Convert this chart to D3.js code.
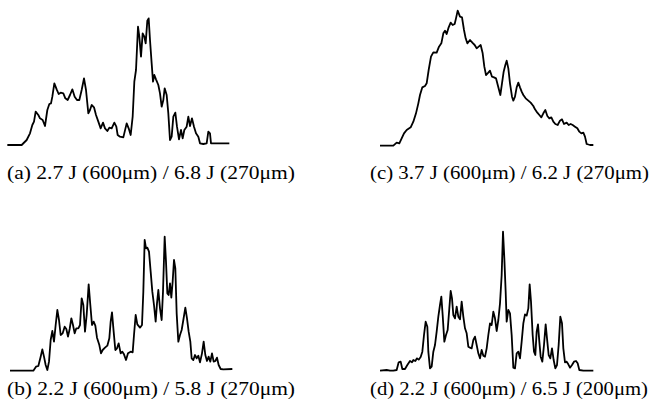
<!DOCTYPE html>
<html>
<head>
<meta charset="utf-8">
<script src="https://cdn.jsdelivr.net/npm/d3@7/dist/d3.min.js"></script>
<style>
  html, body { margin: 0; padding: 0; background: #fff; }
  svg { display: block; }
  .caption { font-family: "Liberation Serif", "Times New Roman", serif; fill: #000; }
</style>
</head>
<body>
<svg id="chart" width="657" height="404"></svg>
<script>
// Spectral channel positions and relative intensities for each shot.
const channelA = [22,65,80,90,97,102,107,115,120,128,135,142,148,153,157,163,170,176,182,190,196,203,210,217,224,231,238,245,252,258,265,270,275,282,288,295,302,309,315,322,328,335,343,349,353,360,370,380,386,392,398,403,408,414,418,423,428,433,437,442,446,450,455,459,463,468,475,480,485,490,494,500,505,510,515,520,526,531,537,543,548,553,560,565,570,576,582,588,595,600,610,620,625,630,633,650,688];
const intensityA = [2,2,17,37,62,72,102,92,82,77,59,107,125,127,147,187,169,155,159,157,142,137,152,169,147,137,137,167,202,167,97,107,122,115,92,72,52,69,52,44,54,52,69,57,32,27,25,67,52,32,87,192,227,357,327,267,337,327,307,375,382,317,247,192,212,199,182,157,117,137,172,152,97,17,27,87,99,57,19,47,22,47,57,87,59,82,57,37,27,7,5,7,42,37,7,7,7];

const channelB = [30,100,108,115,122,127,132,137,142,147,152,157,162,167,172,177,182,188,194,199,204,209,214,219,224,229,235,240,245,250,255,260,266,271,276,281,286,291,298,303,308,315,322,328,332,336,341,346,351,356,362,367,372,378,384,392,398,402,407,412,420,426,430,434,438,442,447,452,457,462,467,471,475,480,485,489,494,498,502,506,510,514,518,522,526,530,535,540,545,550,556,561,566,571,575,580,585,590,595,600,606,611,616,621,626,631,636,641,646,651,656,662,670,697];
const intensityB = [0,0,12,14,42,64,42,17,2,27,92,119,87,137,182,152,107,112,132,125,102,125,157,137,112,127,127,137,217,197,117,167,259,197,137,147,135,99,77,52,62,69,75,97,147,175,117,62,67,82,52,57,49,32,52,57,55,107,167,139,129,137,237,392,367,369,357,297,237,197,147,202,242,187,152,237,402,327,232,227,262,219,267,332,307,172,87,107,122,152,189,157,117,87,37,32,47,37,45,25,52,87,47,29,42,27,52,27,29,39,17,5,4,5];

const channelC = [0,40,50,58,65,72,80,92,100,108,115,120,127,135,140,146,153,160,170,177,184,190,195,200,206,212,218,224,228,233,240,246,252,257,262,270,277,284,290,296,302,308,313,318,325,330,336,342,348,355,361,366,371,376,380,385,390,396,400,405,410,415,420,425,430,437,445,452,460,465,472,478,484,490,496,502,508,514,520,526,533,540,546,552,560,566,572,578,585,592,598,604,610,615,620,630,640];
const intensityC = [0,0,9,7,22,37,47,55,72,97,127,152,175,179,187,227,267,280,279,297,307,337,345,335,355,369,362,365,382,405,387,385,347,322,307,317,309,302,292,297,302,277,237,212,219,225,207,205,202,175,152,187,222,242,255,232,187,147,135,147,175,189,175,162,152,142,135,129,119,109,99,92,85,97,107,89,82,85,72,65,62,75,79,65,69,62,65,62,57,52,42,37,39,27,5,2,2];

const channelD = [0,20,30,40,50,56,62,67,75,82,90,96,100,106,111,116,122,127,132,137,142,145,150,155,160,165,170,175,180,184,188,193,198,203,208,212,216,220,225,230,235,240,245,250,255,260,265,270,275,280,285,290,295,300,305,310,315,320,325,330,335,340,345,350,355,360,365,369,373,377,380,385,390,395,400,405,410,415,420,425,430,435,440,445,449,453,458,462,466,470,474,478,482,487,492,497,501,506,511,516,521,526,531,536,541,546,550,555,560,565,570,576,582,588,593,598,610,640];
const intensityD = [0,2,0,0,2,25,27,5,5,17,29,25,32,29,37,33,41,57,107,147,132,57,7,12,57,77,117,162,197,222,167,87,107,122,187,239,217,167,157,192,162,154,207,162,127,112,72,69,67,92,102,77,52,37,62,45,42,67,107,142,137,177,157,119,152,202,287,417,337,237,147,182,172,107,9,7,52,57,37,87,142,169,165,187,259,207,107,57,47,117,139,87,42,27,77,139,97,47,37,67,32,7,17,77,162,142,67,25,27,19,9,17,27,29,22,2,0,0];

const captions = [
  "(a) 2.7 J (600\u03bcm) / 6.8 J (270\u03bcm)",
  "(b) 2.2 J (600\u03bcm) / 5.8 J (270\u03bcm)",
  "(c) 3.7 J (600\u03bcm) / 6.2 J (270\u03bcm)",
  "(d) 2.2 J (600\u03bcm) / 6.5 J (200\u03bcm)"
];

// Panel layout: top-left corner of each plotting box plus caption placement.
const panels = [
  { x: channelA, y: intensityA, ox: 0,   oy: 0,   cap: captions[0], cx: 7,   cy: 179, cw: 288 },
  { x: channelB, y: intensityB, ox: 0,   oy: 225, cap: captions[1], cx: 7,   cy: 395, cw: 288 },
  { x: channelC, y: intensityC, ox: 380, oy: 0,   cap: captions[2], cx: 370, cy: 179, cw: 279 },
  { x: channelD, y: intensityD, ox: 380, oy: 225, cap: captions[3], cx: 370, cy: 395, cw: 278 }
];

const svg = d3.select("#chart");
const boxW = 233.33, boxH = 145.67;

panels.forEach(p => {
  const xs = d3.scaleLinear().domain([0, 700]).range([p.ox, p.ox + boxW]);
  const ys = d3.scaleLinear().domain([0, 437]).range([p.oy + boxH, p.oy]);
  const pts = p.x.map((c, i) => [c, p.y[i]]);
  const line = d3.line().x(d => xs(d[0])).y(d => ys(d[1]));

  svg.append("path")
    .datum(pts)
    .attr("d", line)
    .attr("fill", "none")
    .attr("stroke", "#000")
    .attr("stroke-width", 1.8)
    .attr("stroke-linejoin", "round");

  svg.append("text")
    .attr("class", "caption")
    .attr("x", p.cx)
    .attr("y", p.cy)
    .attr("font-size", 19)
    .attr("textLength", p.cw)
    .attr("lengthAdjust", "spacingAndGlyphs")
    .text(p.cap);
});
</script>
</body>
</html>
